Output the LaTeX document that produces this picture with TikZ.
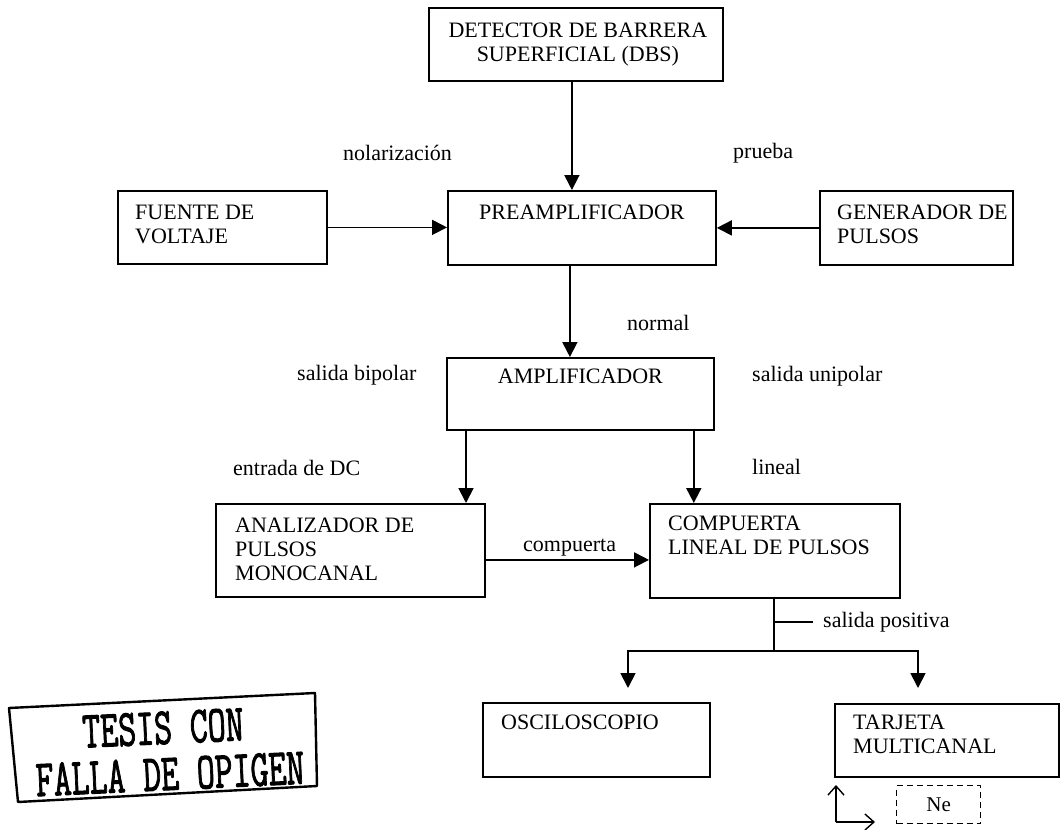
\documentclass[tikz,border=0pt]{standalone}
\usepackage{fontspec}
\setmainfont{Liberation Serif}
\newfontfamily\stampfont{Latin Modern Mono}[FakeBold=2]
\usetikzlibrary{arrows.meta}
\begin{document}
\begin{tikzpicture}[x=1pt,y=-1pt,
  box/.style={draw, line width=1.8pt, inner sep=0pt, anchor=north west},
  txt/.style={font=\fontsize{22}{24}\selectfont, inner sep=0pt},
  inl/.style={txt, anchor=north west, align=left},
  ctl/.style={txt, anchor=north, align=center},
  lab/.style={txt, anchor=west},
  arr/.style={line width=1.8pt, -{Triangle[length=15pt,width=15pt]}},
  wire/.style={line width=1.8pt},
  openarr/.style={line width=1.4pt, -{Straight Barb[length=9pt,width=16pt]}},
  stamp/.style={line width=2.4pt, line join=round},
  stamptxt/.style={inner sep=0pt, rotate=2.7}]
\fill[white] (0,0) rectangle (1061,830);
\useasboundingbox (0,0) rectangle (1061,830);

% boxes
\node[box, minimum width=294pt, minimum height=73pt,
  label={[ctl, xshift=2pt, yshift=-15.5pt]north:DETECTOR DE BARRERA\\SUPERFICIAL (DBS)}] (dbs) at (428,7) {};
\node[box, minimum width=209pt, minimum height=73pt,
  label={[inl, xshift=18pt, yshift=-15pt]north west:FUENTE DE\\VOLTAJE}] (fuente) at (117,190) {};
\node[box, minimum width=268pt, minimum height=74pt,
  label={[ctl, yshift=-15pt]north:PREAMPLIFICADOR}] (pre) at (447,190) {};
\node[box, minimum width=193pt, minimum height=74pt,
  label={[inl, xshift=18pt, yshift=-15pt]north west:GENERADOR DE\\PULSOS}] (gen) at (819,190) {};
\node[box, minimum width=267pt, minimum height=72pt,
  label={[ctl, yshift=-12pt]north:AMPLIFICADOR}] (amp) at (446,357) {};
\node[box, minimum width=269pt, minimum height=93pt,
  label={[inl, xshift=20pt, yshift=-15pt]north west:ANALIZADOR DE\\PULSOS\\MONOCANAL}] (ana) at (215,503) {};
\node[box, minimum width=250pt, minimum height=94pt,
  label={[inl, xshift=19pt, yshift=-13pt]north west:COMPUERTA\\LINEAL DE PULSOS}] (comp) at (649,503) {};
\node[box, minimum width=227pt, minimum height=74pt,
  label={[inl, xshift=19pt, yshift=-13pt]north west:OSCILOSCOPIO}] (osc) at (482,702) {};
\node[box, minimum width=224pt, minimum height=73pt,
  label={[inl, xshift=19pt, yshift=-12pt]north west:TARJETA\\MULTICANAL}] (tar) at (834,703) {};
\node[box, dashed, dash pattern=on 6pt off 4pt, line width=1.4pt, minimum width=84pt, minimum height=38pt,
  font=\fontsize{21}{24}\selectfont] (ne) at (896,785) {Ne};

% free labels
\node[lab] (polar) at (343,153) {nolarización};
\node[lab] (prueba) at (733,153) {prueba};
\node[lab] (normal) at (627,323) {normal};
\node[lab] (sbip) at (297,375) {salida bipolar};
\node[lab] (suni) at (752,376) {salida unipolar};
\node[lab] (edc) at (233,468) {entrada de DC};
\node[lab] (lineal) at (752,467) {lineal};
\node[lab] (compl) at (523,548) {compuerta};
\node[lab] (spos) at (823,622) {salida positiva};

% connectors
\draw[arr] ([xshift=-4pt]dbs.south) -- ([xshift=-4pt]dbs.south |- pre.north);
\draw[arr] (fuente.east) -- (fuente.east -| pre.west);
\draw[arr] (gen.west) -- (gen.west -| pre.east);
\draw[arr] ([xshift=-12pt]pre.south) -- ([xshift=-12pt]pre.south |- amp.north);
\draw[arr] ([xshift=20pt]amp.south west) -- ([xshift=20pt]amp.south west |- ana.north);
\draw[arr] ([xshift=-21pt]amp.south east) -- ([xshift=-21pt]amp.south east |- comp.north);
\draw[arr] ([yshift=-9.5pt]ana.east) -- ([yshift=-9.5pt]ana.east -| comp.west);

\coordinate (split) at (774,651);
\coordinate (tick) at (813,622);
\coordinate (oscin) at (628,688);
\coordinate (tarin) at (918,688);
\draw[wire] (split |- comp.south) -- (split);
\draw[wire] (split |- tick) -- (tick);
\draw[arr] (split) -| (oscin);
\draw[arr] (split) -| (tarin);

\coordinate (corner) at (836,822);
\coordinate (cup) at (836,785);
\coordinate (cright) at (875,822);
\draw[openarr] (corner) -- (cup);
\draw[openarr] (corner) -- (cright);

% stamp
\draw[stamp] (9,708) -- (315,693) -- (317,786) -- (18,802) -- cycle;
\node[stamptxt] (tesis) at (163,728) {\scalebox{0.87}[1.3]{\stampfont\fontsize{40}{40}\selectfont TESIS CON}};
\node[stamptxt] (falla) at (170,774) {\scalebox{0.87}[1.3]{\stampfont\fontsize{40}{40}\selectfont FALLA DE OPIGEN}};
\end{tikzpicture}
\end{document}
